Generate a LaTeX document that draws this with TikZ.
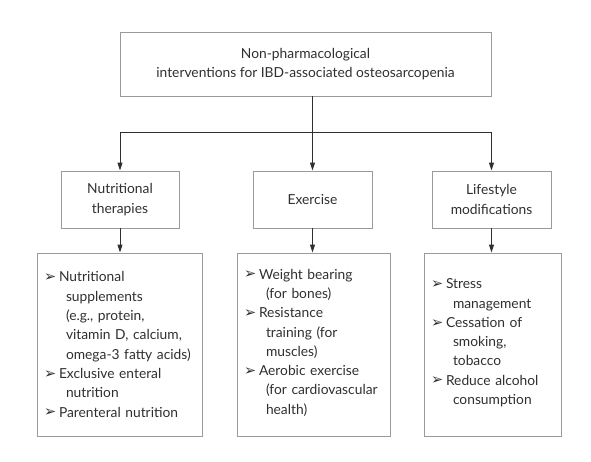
\documentclass[tikz,border=0pt]{standalone}
\usepackage{fontspec}
\setmainfont{Lato}
\newfontfamily\dejavu{DejaVu Sans}
\usetikzlibrary{arrows.meta}
\definecolor{boxgray}{HTML}{9A9A9A}
\definecolor{txt}{HTML}{2F2F2F}
\newcommand\bul{\makebox[15pt][l]{\raisebox{0.3pt}{\dejavu\fontsize{14.5}{10}\selectfont ➢}}}
\newcommand\ind{\makebox[22pt][l]{\strut}}
\begin{document}
\begin{tikzpicture}[x=1pt,y=-1pt,
  box/.style={draw=boxgray, line width=0.9pt, text=txt, font=\fontsize{13.8}{19.3}\selectfont, inner sep=0pt, align=center},
  list/.style={box, align=left, inner xsep=7pt, minimum height=183},
  arr/.style={draw=txt, line width=0.9pt, -{Triangle[width=5pt,length=8pt]}},
  conn/.style={draw=txt, line width=0.9pt}]
\useasboundingbox (0,0) rectangle (591,461);
\node[box, minimum width=371, minimum height=64] (top) at (305.5,64) {Non-pharmacological\\interventions for IBD-associated osteosarcopenia};
\node[box, minimum width=118, minimum height=57] (nut) at (120,199.5) {Nutritional\\therapies};
\node[box, minimum width=119, minimum height=57] (exe) at (312.5,199.5) {Exercise};
\node[box, minimum width=119, minimum height=57] (lif) at (491.5,199.5) {Lifestyle\\modifications};
\node[list, text width=151] (nutl) at (119.5,344.5) {\bul Nutritional\\ \ind supplements\\ \ind (e.g., protein,\\ \ind vitamin D, calcium,\\ \ind omega-3 fatty acids)\\ \bul Exclusive enteral\\ \ind nutrition\\ \bul Parenteral nutrition};
\node[list, text width=139] (exel) at (313.5,344.5) {\bul Weight bearing\\ \ind (for bones)\\ \bul Resistance\\ \ind training (for\\ \ind muscles)\\ \bul Aerobic exercise\\ \ind (for cardiovascular\\ \ind health)};
\node[list, text width=123] (lifl) at (492.5,344.5) {\bul Stress\\ \ind management\\ \bul Cessation of\\ \ind smoking,\\ \ind tobacco\\ \bul Reduce alcohol\\ \ind consumption};
\coordinate (j) at (312.5,132);
\draw[arr] (top.south -| exe.north) -- (exe.north);
\draw[conn] (nut.north |- j) -- (lif.north |- j);
\draw[arr] (nut.north |- j) -- (nut.north);
\draw[arr] (lif.north |- j) -- (lif.north);
\draw[arr] (nut.south) -- (nut.south |- nutl.north);
\draw[arr] (exe.south) -- (exe.south |- exel.north);
\draw[arr] (lif.south) -- (lif.south |- lifl.north);
\end{tikzpicture}
\end{document}
